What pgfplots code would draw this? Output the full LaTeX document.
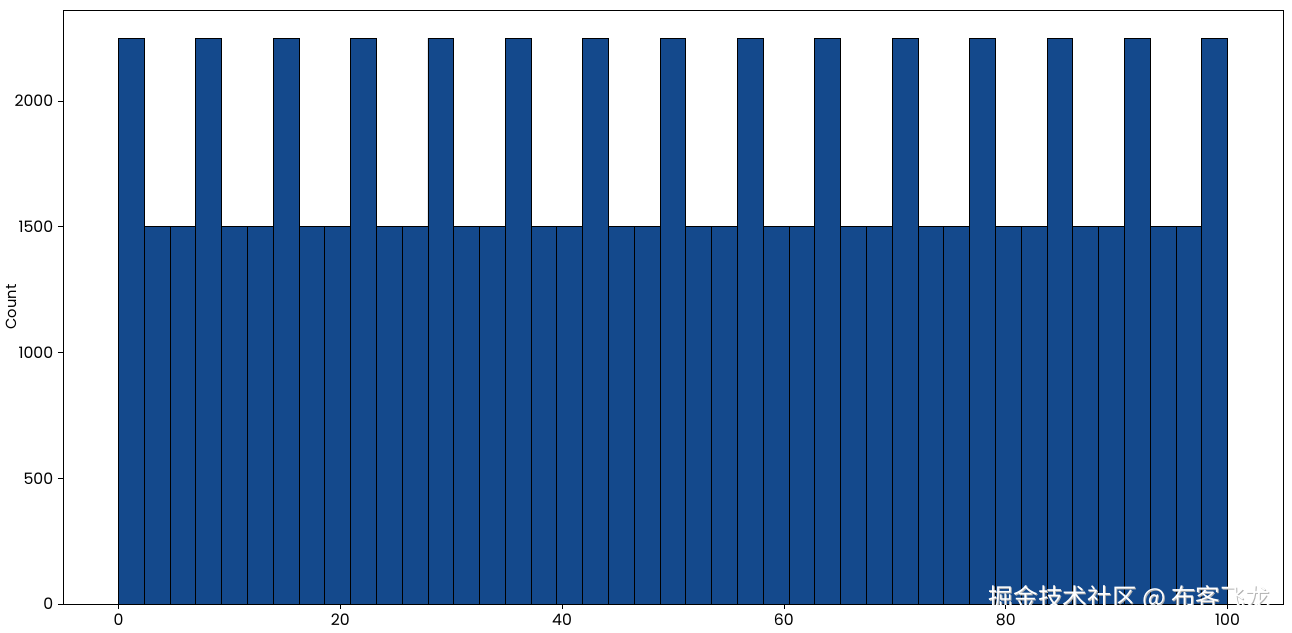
\documentclass[border=0pt]{standalone}
\usepackage{fontspec}
\setmainfont{Poppins}
\newfontfamily\cjk{Noto Sans CJK SC}
\usepackage{pgfplots}
\pgfplotsset{compat=1.18}
\definecolor{barblue}{RGB}{20,73,140}

\begin{document}
\begin{tikzpicture}
\begin{axis}[
  name=ax,
  scale only axis,
  width=915pt, height=445.5pt,
  xmin=-5, xmax=105, ymin=0, ymax=2362,
  xtick={0,20,40,60,80,100},
  ytick={0,500,1000,1500,2000},
  xtick pos=bottom, ytick pos=left,
  tick align=outside, major tick length=3.8pt,
  tick style={black, line width=0.6pt},
  axis line style={black, line width=0.7pt},
  tick label style={font=\fontsize{11.8}{13}\selectfont},
  /pgf/number format/assume math mode=true,
  /pgf/number format/set thousands separator={},
  ylabel={Count},
  ylabel style={font=\fontsize{11}{13}\selectfont, at={(axis description cs:-0.0426,0.5)}, anchor=center},
]
\addplot[ybar interval, fill=barblue, draw=black, line width=0.7pt] coordinates {
(0,2250) (2.3256,1500) (4.6512,1500) (6.9767,2250) (9.3023,1500) (11.6279,1500)
(13.9535,2250) (16.2791,1500) (18.6047,1500) (20.9302,2250) (23.2558,1500) (25.5814,1500)
(27.9070,2250) (30.2326,1500) (32.5581,1500) (34.8837,2250) (37.2093,1500) (39.5349,1500)
(41.8605,2250) (44.1860,1500) (46.5116,1500) (48.8372,2250) (51.1628,1500) (53.4884,1500)
(55.8140,2250) (58.1395,1500) (60.4651,1500) (62.7907,2250) (65.1163,1500) (67.4419,1500)
(69.7674,2250) (72.0930,1500) (74.4186,1500) (76.7442,2250) (79.0698,1500) (81.3953,1500)
(83.7209,2250) (86.0465,1500) (88.3721,1500) (90.6977,2250) (93.0233,1500) (95.3488,1500)
(97.6744,2250) (100,2250)
};
\node[text=gray!60, font=\cjk\fontsize{18.5}{20}\selectfont] at ([shift={(0.7pt,-0.7pt)}]axis description cs:0.874,0.01) {掘金技术社区 @ 布客飞龙};
\node[text=white, font=\cjk\fontsize{18.5}{20}\selectfont] at (axis description cs:0.874,0.01) {掘金技术社区 @ 布客飞龙};
\end{axis}
\pgfresetboundingbox
\path[use as bounding box] ([shift={(-47.25pt,-21pt)}]ax.south west) rectangle ([shift={(6.75pt,7.5pt)}]ax.north east);
\end{tikzpicture}
\end{document}
